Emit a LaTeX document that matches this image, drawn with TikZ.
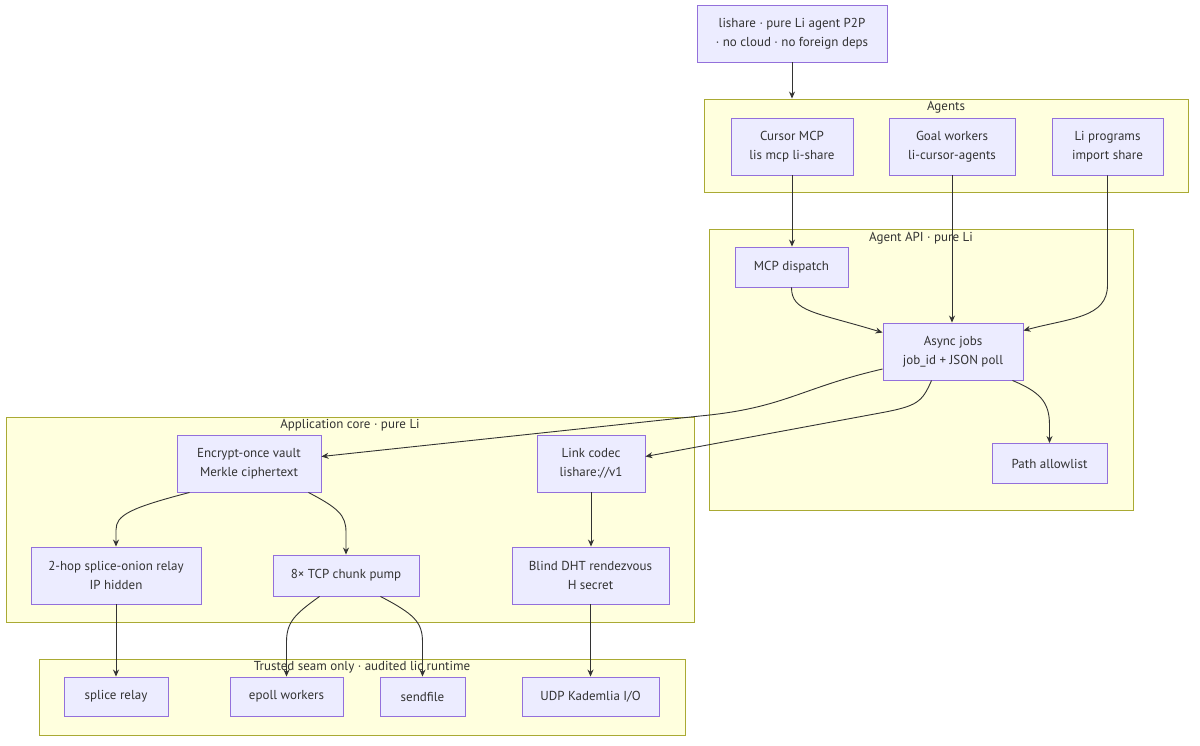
\documentclass[tikz,border=0pt]{standalone}
\usepackage{fontspec}
\setmainfont{PT Sans}
\usetikzlibrary{arrows.meta,positioning,calc}
\definecolor{nodefill}{HTML}{ECECFF}
\definecolor{nodeline}{HTML}{9370DB}
\definecolor{clfill}{HTML}{FFFFDE}
\definecolor{clline}{HTML}{AAAA33}
\definecolor{ink}{HTML}{333333}
\tikzset{
  box/.style={draw=nodeline, fill=nodefill, line width=0.9pt, align=center, inner sep=0pt,
    text=ink, font=\fontsize{13}{19}\selectfont},
  cluster/.style={draw=clline, fill=clfill, line width=0.9pt, inner sep=0pt},
  cltitle/.style={text=ink, font=\fontsize{13}{16}\selectfont, inner sep=0pt},
  arr/.style={draw=ink, line width=0.9pt, -{Stealth[length=7pt,width=6pt]}},
}
\begin{document}
\begin{tikzpicture}[x=1pt,y=-1pt]
\useasboundingbox[fill=white] (0,0) rectangle (1200,745);
% clusters
\node[cluster, minimum width=484pt, minimum height=93pt] (agents) at (946,145.5) {};
\node[cltitle] (agentsT) at (946,107) {Agents};
\node[cluster, minimum width=424pt, minimum height=281pt] (api) at (921,369.5) {};
\node[cltitle] (apiT) at (921,238) {Agent API · pure Li};
\node[cluster, minimum width=688pt, minimum height=205pt] (core) at (350,519.5) {};
\node[cltitle] (coreT) at (350,425) {Application core · pure Li};
\node[cluster, minimum width=646pt, minimum height=76pt] (seam) at (362,697) {};
\node[cltitle] (seamT) at (362,667) {Trusted seam only · audited lic runtime};
% nodes
\node[box, minimum width=190pt, minimum height=57pt] (top) at (792,33.5) {lishare · pure Li agent P2P\\· no cloud · no foreign deps};
\node[box, minimum width=122pt, minimum height=57pt] (cur) at (792,146.5) {Cursor MCP\\lis mcp li-share};
\node[box, minimum width=126pt, minimum height=57pt] (goal) at (952,146.5) {Goal workers\\li-cursor-agents};
\node[box, minimum width=111pt, minimum height=57pt] (lp) at (1107.5,146.5) {Li programs\\import share};
\node[box, minimum width=113pt, minimum height=40pt] (mcp) at (791.5,267) {MCP dispatch};
\node[box, minimum width=140pt, minimum height=57pt] (async) at (953,351.5) {Async jobs\\job\_id + JSON poll};
\node[box, minimum width=115pt, minimum height=40pt] (path) at (1049.5,463.5) {Path allowlist};
\node[box, minimum width=144pt, minimum height=57pt] (vault) at (249,463.5) {Encrypt-once vault\\Merkle ciphertext};
\node[box, minimum width=108pt, minimum height=57pt] (link) at (591,463.5) {Link codec\\lishare://v1};
\node[box, minimum width=170pt, minimum height=57pt] (relay) at (116,575.5) {2-hop splice-onion relay\\IP hidden};
\node[box, minimum width=146pt, minimum height=41pt] (pump) at (346,575.5) {8× TCP chunk pump};
\node[box, minimum width=157pt, minimum height=57pt] (dht) at (590.5,575.5) {Blind DHT rendezvous\\H secret};
\node[box, minimum width=104pt, minimum height=39pt] (splice) at (116,696.5) {splice relay};
\node[box, minimum width=113pt, minimum height=39pt] (epoll) at (286.5,696.5) {epoll workers};
\node[box, minimum width=85pt, minimum height=39pt] (sendf) at (422.5,696.5) {sendfile};
\node[box, minimum width=137pt, minimum height=39pt] (udp) at (590.5,696.5) {UDP Kademlia I/O};
% edges
\draw[arr] (top.south) -- (top.south |- agents.north);
\draw[arr] (cur.south) -- (cur.south |- mcp.north);
\draw[arr] (goal.south) -- (goal.south |- async.north);
\draw[arr] (lp.south) -- (1107.5,285) .. controls (1107.5,318) and (1070,318) .. ([yshift=-8pt]async.north east);
\draw[arr] (mcp.south) .. controls (791.5,312) and (815,312) .. ([yshift=-10pt]async.north west);
\draw[arr] ([yshift=-17.5pt]async.west) .. controls (800,388) and (785,408) .. (700,416) -- ([yshift=7pt]vault.east);
\draw[arr] ([xshift=49pt]async.south west) .. controls (922,402) and (918,406) .. (880,413) -- ([yshift=7pt]link.east);
\draw[arr] ([xshift=-11pt]async.south east) .. controls (1040,392) and (1049.5,402) .. (1049.5,425) -- (path.north);
\draw[arr] ([xshift=13pt]vault.south west) .. controls (130,508) and (116,515) .. (116,530) -- (relay.north);
\draw[arr] ([xshift=-13pt]vault.south east) .. controls (338,508) and (346,515) .. (346,532) -- (pump.north);
\draw[arr] (link.south) -- (link.south |- dht.north);
\draw[arr] (relay.south) -- (splice.north);
\draw[arr] ([xshift=47pt]pump.south west) .. controls (295,614) and (286.5,622) .. (286.5,642) -- (epoll.north);
\draw[arr] ([xshift=-39pt]pump.south east) .. controls (414,614) and (422.5,622) .. (422.5,642) -- (sendf.north);
\draw[arr] (dht.south) -- (udp.north);
\end{tikzpicture}
\end{document}
